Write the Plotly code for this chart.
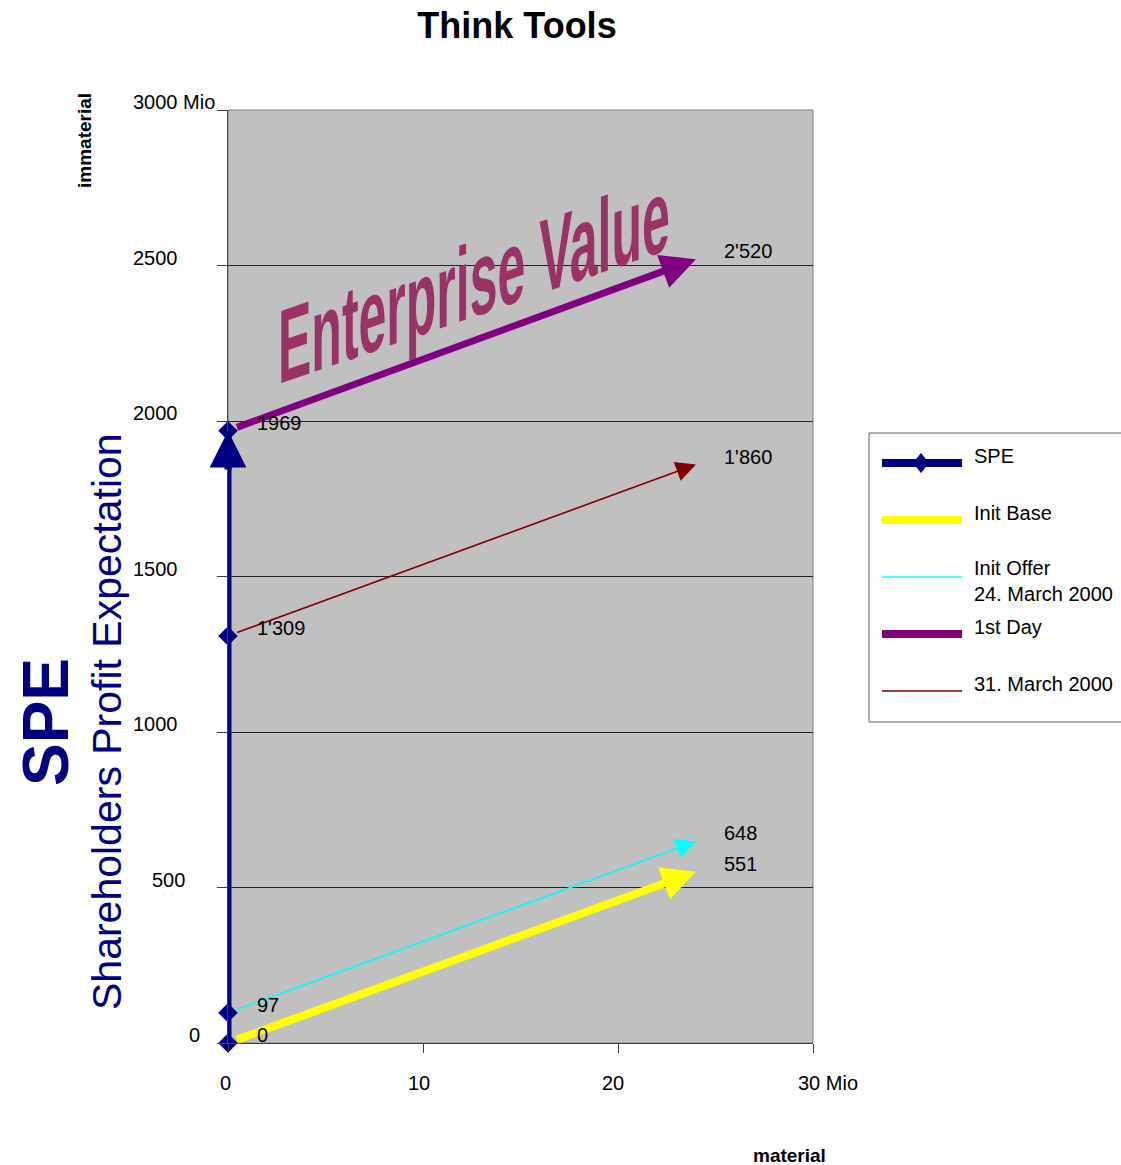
import plotly.graph_objects as go

# ---------------------------------------------------------------------------
# Data
# ---------------------------------------------------------------------------
X_MAX = 30
Y_MAX = 3000

# every development line runs from x_start to x_end (material, Mio)
x_start = 0
x_end = 24

# Shareholders Profit Expectation milestones (immaterial, Mio)
spe_values = [0, 97, 1309, 1969]

series_names = ["Init Base", "Init Offer<br>24. March 2000", "1st Day", "31. March 2000"]
series_start = [0, 97, 1969, 1309]
series_end = [551, 648, 2520, 1860]
start_with_separator = [True, True, False, True]

y_ticks = [0, 500, 1000, 1500, 2000, 2500, 3000]
y_tick_text = ["0", "500", "1000", "1500", "2000", "2500", "3000 Mio"]
x_ticks = [0, 10, 20, 30]
x_tick_text = ["0", "10", "20", "30 Mio"]

# ---------------------------------------------------------------------------
# Styling
# ---------------------------------------------------------------------------
FONT = "Liberation Sans, Arial, sans-serif"
NAVY = "#000080"
series_colors = ["#FFFF00", "#00FFFF", "#800080", "#800000"]
series_widths = [8, 1.6, 7, 1.6]
series_head = [0.85, 2.5, 1.0, 2.5]      # arrow head scale relative to line width

W, H = 1121, 1165
L, R, T, B = 228, 813, 110, 1043   # plot area in pixels


def px_x(px):
    return (px - L) / (R - L)


def px_y(py):
    return (B - py) / (B - T)


def swiss(v, sep=True):
    return f"{v:,}".replace(",", "'") if sep else str(v)


def arrow(x0, y0, x1, y1, color, width, size, start_gap=8):
    """Arrow from (x0, y0) to (x1, y1) in data coordinates, triangle head at the end."""
    return dict(x=x1, y=y1, xref="x", yref="y", ax=x0, ay=y0, axref="x", ayref="y",
                text="", showarrow=True, arrowhead=2, arrowcolor=color,
                arrowwidth=width, arrowsize=size, startstandoff=start_gap)


fig = go.Figure()
annotations = []

# development lines, each drawn as an arrow from start to end value
for y0, y1, col, w, hs in zip(series_start, series_end, series_colors,
                              series_widths, series_head):
    annotations.append(arrow(x_start, y0, x_end, y1, col, w, hs))

# SPE axis with milestone diamonds
fig.add_trace(go.Scatter(
    x=[x_start] * len(spe_values), y=spe_values, mode="lines+markers", name="SPE",
    line=dict(color=NAVY, width=7),
    marker=dict(symbol="diamond", size=15, color=NAVY, opacity=1),
    cliponaxis=False, showlegend=False, hoverinfo="skip",
))
annotations.append(arrow(x_start, spe_values[-2], x_start, spe_values[-1],
                         NAVY, 7, 1.05, start_gap=165))

label_font = dict(family=FONT, size=20, color="black")

# value labels at the start and end of each line
for y0, y1, sep in zip(series_start, series_end, start_with_separator):
    annotations.append(dict(x=x_start, y=y0, xref="x", yref="y", text=swiss(y0, sep),
                            showarrow=False, xanchor="left", yanchor="middle",
                            xshift=27, yshift=8, font=label_font))
    annotations.append(dict(x=x_end, y=y1, xref="x", yref="y", text=swiss(y1),
                            showarrow=False, xanchor="left", yanchor="middle",
                            xshift=26, yshift=8, font=label_font))

# y tick labels
y_label_left = [187, 150, 131, 131, 131, 131, 131]
for v, t, lx in zip(y_ticks, y_tick_text, y_label_left):
    annotations.append(dict(x=0, y=v, xref="paper", yref="y", text=t, showarrow=False,
                            xanchor="left", yanchor="middle", xshift=lx - L, yshift=8,
                            font=label_font))

# x tick labels
x_label_shift = [-10, -17, -18, -17]
for v, t, s in zip(x_ticks, x_tick_text, x_label_shift):
    annotations.append(dict(x=v, y=0, xref="x", yref="paper", text=t, showarrow=False,
                            xanchor="left", yanchor="middle", xshift=s, yshift=-40,
                            font=label_font))


def caption(px, py, text, size, color="black", angle=0):
    return dict(x=px_x(px), y=px_y(py), xref="paper", yref="paper", text=text,
                textangle=angle, showarrow=False, xanchor="center", yanchor="middle",
                font=dict(family=FONT, size=size, color=color))


# axis captions
annotations += [
    caption(85, 141, "<b>immaterial</b>", 19, angle=-90),
    caption(789, 1155, "<b>material</b>", 19),
    caption(46, 722, "<b>SPE</b>", 64, NAVY, -90),
    caption(107, 722, "Shareholders Profit Expectation", 41, NAVY, -90),
    caption(474, 281, "<b>Enterprise Value</b>", 50, "#993366"),
]

# legend
shapes = [
    dict(type="rect", xref="paper", yref="paper", x0=0, x1=1, y0=0, y1=1,
         line=dict(color="#808080", width=1), layer="below"),
    dict(type="rect", xref="paper", yref="paper", x0=px_x(869), x1=px_x(1130),
         y0=px_y(722), y1=px_y(433), line=dict(color="#606060", width=1),
         fillcolor="white"),
]
legend_names = ["SPE"] + series_names
legend_colors = [NAVY] + series_colors
legend_widths = [8, 8, 1.6, 8, 1.6]
legend_rows = [463, 520, 577, 634, 691]
legend_text_rows = [456, 513, 581, 627, 684]
for nm, col, w, ry, ty in zip(legend_names, legend_colors, legend_widths,
                              legend_rows, legend_text_rows):
    shapes.append(dict(type="line", xref="paper", yref="paper", x0=px_x(882), x1=px_x(962),
                       y0=px_y(ry), y1=px_y(ry), line=dict(color=col, width=w)))
    annotations.append(dict(x=px_x(972), y=px_y(ty), xref="paper", yref="paper", text=nm,
                            showarrow=False, xanchor="left", yanchor="middle", align="left",
                            font=label_font))
cx, cy = 921, legend_rows[0]
shapes.append(dict(type="path", xref="paper", yref="paper", fillcolor=NAVY,
                   line=dict(color=NAVY, width=0),
                   path=f"M{px_x(cx-8)},{px_y(cy)} L{px_x(cx)},{px_y(cy-10)} "
                        f"L{px_x(cx+8)},{px_y(cy)} L{px_x(cx)},{px_y(cy+10)} Z"))

fig.update_layout(
    width=W, height=H,
    margin=dict(l=L, r=W - R, t=T, b=H - B),
    paper_bgcolor="white", plot_bgcolor="#C0C0C0",
    font=dict(family=FONT, size=20, color="black"),
    title=dict(text="<b>Think Tools</b>", x=517 / W, xref="container", xanchor="center",
               y=1 - 25 / H, yref="container", yanchor="middle",
               font=dict(family=FONT, size=36, color="black")),
    xaxis=dict(range=[0, X_MAX], tickvals=x_ticks, showticklabels=False, showgrid=False,
               zeroline=False, showline=True, linecolor="#404040", linewidth=1,
               ticks="outside", ticklen=9, tickcolor="#404040"),
    yaxis=dict(range=[0, Y_MAX], tickvals=y_ticks, showticklabels=False, showgrid=True,
               gridcolor="#202020", gridwidth=1, zeroline=False, showline=True,
               linecolor="#404040", linewidth=1, ticks="outside", ticklen=10,
               tickcolor="#404040"),
    showlegend=False,
    annotations=annotations,
    shapes=shapes,
)

# WordArt style lettering: upright letters on a rising baseline, stretched tall
post = """
var gd = document.getElementById('{plot_id}');
function slantTitle() {
  gd.querySelectorAll('text.annotation-text').forEach(function (t) {
    if (t.textContent === 'Enterprise Value') {
      var b = t.getBBox();
      var cx = b.x + b.width / 2, cy = b.y + b.height / 2;
      t.setAttribute('transform', 'translate(' + cx + ',' + cy + ') skewY(-19) scale(1,2.1) translate(' + (-cx) + ',' + (-cy) + ')');
    }
  });
}
slantTitle();
gd.on('plotly_afterplot', slantTitle);
"""

fig.write_html("out.html", post_script=post)
